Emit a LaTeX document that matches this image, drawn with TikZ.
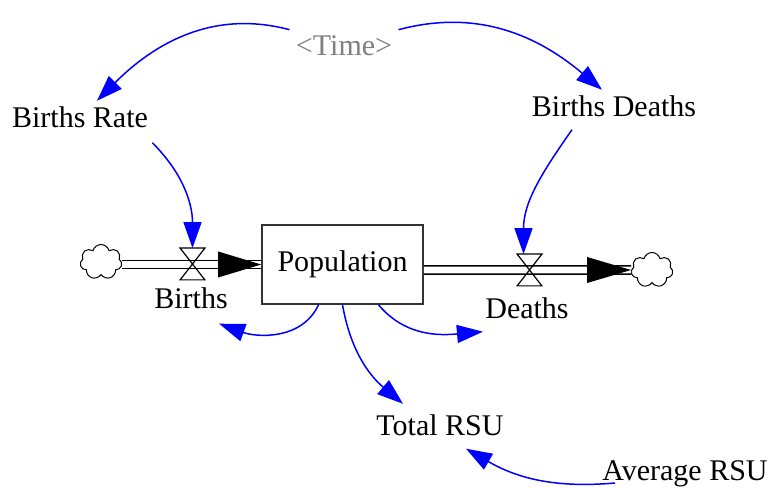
\documentclass[tikz,border=0pt]{standalone}
\usepackage{fontspec}
\setmainfont{Liberation Serif}
\usetikzlibrary{arrows.meta, shapes.symbols}

\begin{document}
\begin{tikzpicture}[x=0.5pt, y=0.5pt,
    lbl/.style={font=\fontsize{15pt}{18pt}\selectfont, inner sep=3pt, anchor=base},
    link/.style={draw=blue, line width=0.75pt, -{Triangle[length=13pt, width=9pt]}},
    pipe/.style={draw=black, line width=0.75pt, double=white, double distance=3.3pt},
    valve/.style={minimum width=12pt, minimum height=15.5pt, inner sep=0pt},
    puff/.style={cloud, cloud puffs=7, draw, fill=white, line width=0.5pt, inner sep=0pt, minimum width=21pt, minimum height=17.5pt}]
    \useasboundingbox (0,0) rectangle (774,487);
    \node[lbl, text=black!50] (time) at (344,431) {<Time>};
    \node[lbl] (brate) at (80,359) {Births Rate};
    \node[lbl] (bdeaths) at (614,370) {Births Deaths};
    \node[puff] (cloudL) at (101,225) {};
    \node[valve] (vBirths) at (192.5,223) {};
    \node[draw=black!80, line width=0.8pt, minimum width=80.5pt, minimum height=39.5pt, font=\fontsize{15pt}{18pt}\selectfont] (pop) at (342.5,222.5) {Population};
    \node[valve] (vDeaths) at (529.5,217) {};
    \node[puff] (cloudR) at (652,217) {};
    \node[lbl] (births) at (191,179) {Births};
    \node[lbl] (deaths) at (527,169) {Deaths};
    \node[lbl] (total) at (440,52) {Total RSU};
    \node[lbl] (avg) at (685,7) {Average RSU};

    \draw[pipe] (cloudL.east |- pop.west) -- (pop.west);
    \draw[pipe] ([yshift=-2.75pt]pop.east) -- (cloudR.west);
    \foreach \v in {vBirths, vDeaths}
        \draw[line width=0.6pt] (\v.north west) -- (\v.north east) -- (\v.south west) -- (\v.south east) -- cycle;
    \fill (pop.west) -- ++(-43,13) -- ++(0,-26) -- cycle;
    \fill (cloudR.west) -- ++(-44,13) -- ++(0,-26) -- cycle;

    \draw[link] (time.north west) to[out=165, in=45] (brate);
    \draw[link] (time.north east) to[out=15, in=140] ([xshift=-6pt]bdeaths.north);
    \draw[link] ([xshift=-1pt, yshift=-4pt]brate.south east) to[out=-45, in=90] (vBirths.north);
    \draw[link] ([xshift=-21pt, yshift=-3pt]bdeaths.south) to[out=-125, in=90] ([xshift=-3pt]vDeaths.north);
    \draw[link] ([xshift=-12pt]pop.south) to[out=-115, in=-20] ([xshift=-7.5pt, yshift=-4.5pt]births.south east);
    \draw[link] ([xshift=18pt]pop.south) to[out=-50, in=185] ([xshift=2pt, yshift=-3.5pt]deaths.south west);
    \draw[link] (pop.south) to[out=-80, in=140] ([xshift=-18.5pt, yshift=2pt]total.north);
    \draw[link] ([xshift=9.5pt, yshift=-1.5pt]avg.base west) to[out=185, in=-30] ([xshift=13pt, yshift=-3.5pt]total.south);
\end{tikzpicture}
\end{document}
